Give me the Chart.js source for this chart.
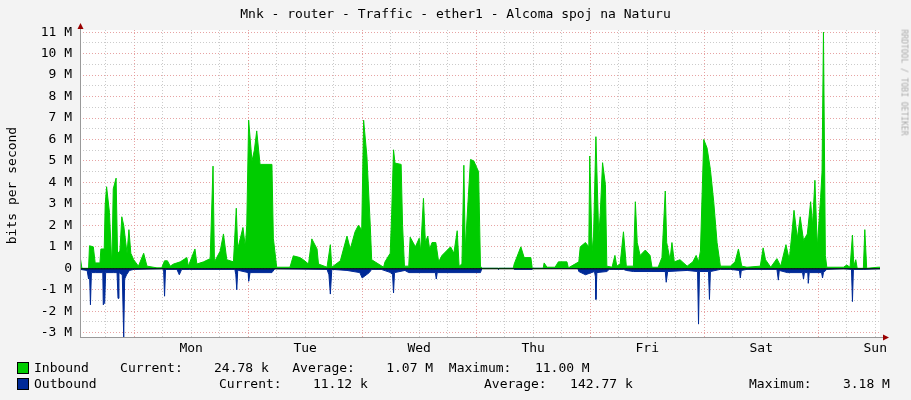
<!DOCTYPE html>
<html><head><meta charset="utf-8">
<script src="https://cdn.jsdelivr.net/npm/chart.js@4"></script>
<style>
body{margin:0;background:#f3f3f3;font-family:"DejaVu Sans Mono",monospace;font-size:13px;color:#000}
#wrap{position:relative;width:911px;height:400px;overflow:hidden}
canvas{position:absolute;left:0;top:0}
.t{position:absolute;white-space:pre}
.box{position:absolute;width:10px;height:10px;border:1px solid #000}
</style></head><body>
<div id="wrap">
<canvas id="chart" width="911" height="400"></canvas>
<div class="t" style="left:0;width:911px;top:6px;text-align:center">Mnk - router - Traffic - ether1 - Alcoma spoj na Naturu</div>
<div class="t" style="left:-54px;top:178px;transform:rotate(-90deg);width:130px;text-align:center">bits per second</div>
<div class="t" style="left:834px;top:78px;transform:rotate(90deg);font-size:8px;color:#aaa;width:140px;text-align:center">RRDTOOL / TOBI OETIKER</div>
<div class="box" style="left:17px;top:362px;background:#00cc00"></div>
<div class="box" style="left:17px;top:378px;background:#002a97"></div>
<div class="t" style="left:34px;top:360px">Inbound    Current:    24.78 k   Average:    1.07 M  Maximum:   11.00 M</div>
<div class="t" style="left:34px;top:376px">Outbound</div>
<div class="t" style="left:219px;top:376px">Current:    11.12 k</div>
<div class="t" style="left:484px;top:376px">Average:   142.77 k</div>
<div class="t" style="left:749px;top:376px">Maximum:    3.18 M</div>
</div>
<script>
// hours since Mon 00:00, values in M bit/s
const days = ["Mon", "Tue", "Wed", "Thu", "Fri", "Sat", "Sun"];
const yTicks = [-3, -2, -1, 0, 1, 2, 3, 4, 5, 6, 7, 8, 9, 10, 11];

const inHours = [-11.4,-11.0,-9.6,-9.4,-8.6,-8.2,-7.2,-7.0,-6.3,-6.1,-5.8,-5.2,-4.7,-4.4,-3.8,-3.5,-3.0,-2.6,-2.2,-1.5,-1.1,-0.7,-0.1,0.9,2.0,2.7,4.8,5.8,6.4,7.0,7.6,8.3,9.7,11.1,11.4,12.8,13.2,14.6,16.0,16.6,16.9,18.1,18.8,19.5,20.9,21.5,21.8,22.9,23.4,23.7,24.1,24.8,25.3,25.8,26.5,29.0,29.3,30.0,32.8,33.5,34.9,35.6,36.7,37.4,38.5,38.8,40.6,41.3,41.6,43.4,44.8,45.5,46.5,47.2,47.9,48.3,49.0,49.7,50.0,52.5,52.8,53.9,54.2,54.6,54.9,56.2,56.5,56.9,57.8,58.1,59.2,60.0,60.3,60.9,61.3,61.8,62.2,62.7,63.5,64.1,64.8,66.6,67.3,68.0,68.4,69.0,69.4,69.7,70.8,71.5,72.5,72.9,73.2,79.8,80.0,81.4,82.1,83.5,83.8,86.1,86.3,86.9,88.6,89.3,91.1,91.4,93.6,93.9,95.0,95.7,95.9,96.4,96.7,97.2,97.8,98.1,98.6,99.2,99.5,100.6,101.2,101.6,102.3,103.0,103.6,105.1,105.5,105.9,106.5,107.6,108.6,109.0,110.3,111.1,111.8,112.1,112.8,113.2,113.7,114.9,116.4,117.6,118.3,118.8,119.2,119.9,120.6,121.3,122.0,122.7,123.4,125.5,126.5,127.2,127.9,129.0,131.8,132.4,132.9,134.0,135.3,136.1,137.2,137.9,138.4,138.9,139.6,140.2,140.9,141.7,142.4,142.8,143.3,143.8,144.5,144.8,145.1,145.5,145.8,149.3,150.0,150.7,151.2,151.5,151.9,152.2,153.5,153.8,154.2,156.6,157];
const inValues = [0.58,0,0,1.05,1.0,0.25,0.25,0.9,0.9,2.95,3.8,2.6,0.1,3.7,4.2,0.7,0.8,2.4,2.0,0.7,1.8,0.7,0.4,0.1,0.7,0.1,0.02,0.02,0.35,0.35,0.1,0.2,0.3,0.5,0.1,0.9,0.2,0.3,0.45,4.76,0.3,0.8,1.6,0.4,0.3,2.8,0.9,1.9,1.0,2.0,6.9,5.0,5.5,6.4,4.84,4.84,1.4,0.05,0.05,0.58,0.5,0.4,0.2,1.37,0.9,0.2,0.05,1.1,0.05,0.35,1.5,0.9,1.7,2.0,1.8,6.9,5.2,2.0,0.4,0.05,0.3,0.7,2.5,5.52,4.9,4.84,2.0,0.1,0.1,1.45,1.0,1.4,0.8,3.26,1.2,1.5,0.9,1.2,1.2,0.3,0.6,1.0,0.7,1.75,0.1,0.2,4.8,0.9,5.07,5.0,4.5,0.1,0,0,0.2,1.0,0.5,0.5,0,0,0.25,0.05,0.05,0.3,0.3,0.02,0.3,1.0,1.2,1.0,5.23,0.8,1.5,6.13,1.5,2.5,4.92,3.9,0.1,0.05,0.6,0.1,0.2,1.7,0.1,0.1,3.1,1.2,0.6,0.85,0.6,0.05,0.05,0.5,3.6,1.2,0.4,1.2,0.3,0.4,0.1,0.3,0.6,0.3,0.8,6.0,5.6,4.6,3.1,1.2,0.1,0.1,0.3,0.9,0.1,0.05,0.1,0.95,0.4,0.05,0.45,0.1,1.1,0.4,1.5,2.7,1.4,2.4,1.3,1.6,3.1,2.0,4.1,1.0,3.3,4.5,11.0,0.6,0.05,0.05,0.15,0.05,1.55,0.1,0.4,0,0,1.8,0,0.05,0.05];

const outHours = [-11.4,-9.9,-9.6,-9.4,-9.2,-9.0,-8.2,-6.6,-6.5,-6.2,-6.0,-4.4,-3.6,-3.4,-3.2,-2.5,-2.2,-2.0,-1.6,-1.0,0,5.8,6.2,6.4,6.6,9.0,9.5,10.0,11.6,21.2,21.4,21.6,21.8,22.0,24.0,24.1,24.4,29.0,29.6,40.6,41.0,41.3,41.6,44.8,47.5,48.0,49.5,50.0,52.0,54.0,54.4,54.6,54.8,57.0,57.8,63.4,63.6,63.8,72.9,73.2,76.6,76.7,76.8,79.8,80.0,83.8,84.0,93.4,93.6,95.0,96.9,97.1,97.2,97.4,99.5,100.0,101.0,103.0,103.6,105.1,109.0,111.8,112.0,112.3,116.4,118.6,118.8,119.0,120.9,121.1,121.3,123.4,125.5,127.4,127.6,127.8,129.0,135.3,135.6,135.8,137.5,140.7,140.9,141.1,141.8,141.9,142.1,144.7,144.9,145.1,145.8,149.3,151.0,151.2,151.4,153.6,157];
const outValues = [-0.05,-0.1,-0.5,-0.2,-1.7,-0.2,-0.2,-0.2,-1.7,-1.6,-0.2,-0.2,-0.2,-1.4,-0.2,-0.3,-3.2,-0.5,-0.3,-0.1,-0.05,-0.02,-0.05,-1.3,-0.05,-0.05,-0.3,-0.05,-0.05,-0.05,-0.3,-1.0,-0.1,-0.1,-0.2,-0.6,-0.2,-0.2,-0.02,-0.05,-0.3,-1.2,-0.05,-0.1,-0.2,-0.45,-0.2,-0.05,-0.05,-0.2,-0.3,-1.15,-0.2,-0.1,-0.2,-0.2,-0.5,-0.2,-0.2,0,0,-0.05,0,0,-0.05,-0.05,0,0,-0.15,-0.3,-0.15,-0.4,-1.45,-0.2,-0.15,-0.05,-0.05,-0.05,-0.1,-0.15,-0.15,-0.15,-0.65,-0.15,-0.1,-0.15,-2.6,-0.15,-0.15,-1.45,-0.15,-0.05,-0.05,-0.1,-0.45,-0.1,-0.05,-0.05,-0.55,-0.1,-0.2,-0.2,-0.5,-0.2,-0.2,-0.7,-0.2,-0.2,-0.45,-0.2,-0.05,-0.02,-0.05,-1.55,-0.05,-0.05,-0.02];

const pts = (xs, ys) => xs.map((x, i) => ({ x, y: ys[i] }));

const arrows = {
  id: "arrows",
  afterDraw(c) {
    const ctx = c.ctx, a = c.chartArea, z = c.scales.y.getPixelForValue(0);
    ctx.save();
    ctx.strokeStyle = "#000"; ctx.lineWidth = 1;
    ctx.beginPath(); ctx.moveTo(a.left, z + 0.5); ctx.lineTo(a.right, z + 0.5); ctx.stroke();
    ctx.strokeStyle = "#999";
    ctx.beginPath(); ctx.moveTo(a.left, a.bottom + 0.5); ctx.lineTo(a.right + 6, a.bottom + 0.5); ctx.stroke();
    ctx.beginPath(); ctx.moveTo(a.left + 0.5, a.top - 4); ctx.lineTo(a.left + 0.5, a.bottom); ctx.stroke();
    ctx.fillStyle = "#900";
    ctx.beginPath(); ctx.moveTo(a.right + 9, a.bottom + 0.5); ctx.lineTo(a.right + 3, a.bottom - 2.5); ctx.lineTo(a.right + 3, a.bottom + 3.5); ctx.fill();
    ctx.beginPath(); ctx.moveTo(a.left + 0.5, a.top - 7); ctx.lineTo(a.left - 2.5, a.top - 1); ctx.lineTo(a.left + 3.5, a.top - 1); ctx.fill();
    ctx.restore();
  }
};

const red = "rgba(225,140,140,0.8)", grey = "rgba(190,190,190,0.8)";

new Chart(document.getElementById("chart"), {
  type: "line",
  data: { datasets: [
    { data: pts(inHours, inValues), borderColor: "#00cc00", backgroundColor: "#00cc00", fill: "origin", borderWidth: 1, pointRadius: 0, tension: 0 },
    { data: pts(outHours, outValues), borderColor: "#002a97", backgroundColor: "#002a97", fill: "origin", borderWidth: 1, pointRadius: 0, tension: 0 }
  ]},
  options: {
    responsive: false, animation: false, events: [],
    layout: { padding: { top: 30, right: 31, bottom: 40, left: 0 } },
    plugins: { legend: { display: false }, tooltip: { enabled: false } },
    scales: {
      x: {
        type: "linear", min: -11.4, max: 157,
        afterBuildTicks: (ax) => { ax.ticks = []; for (let h = -6; h <= 156; h += 6) ax.ticks.push({ value: h }); },
        afterFit: (ax) => { ax.height = 23; },
        border: { display: false, dash: [1, 2] },
        grid: { color: (c) => (c.tick && c.tick.value % 24 === 0 ? red : grey), drawTicks: false },
        ticks: { autoSkip: false, maxRotation: 0, padding: 4, color: "#000", font: { family: "DejaVu Sans Mono", size: 13 },
          callback: (v) => ((v - 12) % 24 === 0 ? days[(v - 12) / 24] : "") }
      },
      y: {
        min: -3.2, max: 11.1,
        afterBuildTicks: (ax) => { ax.ticks = []; for (let v = -6; v <= 22; v++) ax.ticks.push({ value: v / 2 }); },
        afterFit: (ax) => { ax.width = 80; },
        border: { display: false, dash: [1, 2] },
        grid: { color: (c) => (c.tick && Number.isInteger(c.tick.value) ? red : grey), drawTicks: false },
        ticks: { autoSkip: false, padding: 8, color: "#000", font: { family: "DejaVu Sans Mono", size: 13 },
          callback: (v) => (yTicks.includes(v) ? (v === 0 ? "0" : v + " M") : "") }
      }
    }
  },
  plugins: [{ id: "bg", beforeDraw(c) { const a = c.chartArea; c.ctx.fillStyle = "#fff"; c.ctx.fillRect(a.left, a.top, a.right - a.left, a.bottom - a.top); } }, arrows]
});
</script>
</body></html>
